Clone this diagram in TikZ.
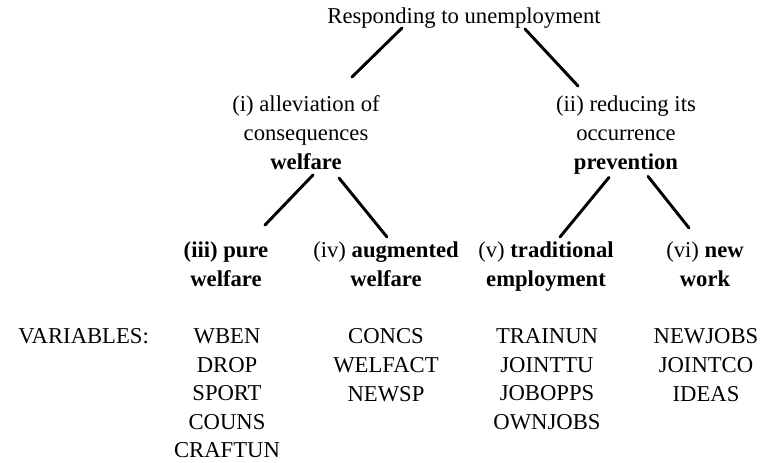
\documentclass[tikz,border=0pt]{standalone}
\usepackage{fontspec}
\setmainfont{Liberation Serif}
\usetikzlibrary{calc}

\begin{document}
\begin{tikzpicture}[
      x=0.75pt, y=-0.75pt,
      every node/.style={font=\fontsize{17}{21.6}\selectfont, inner sep=0pt},
      lab/.style={align=center, anchor=north},
      varcol/.style={align=center, anchor=north, font=\fontsize{17}{21.4}\selectfont},
      branch/.style={line width=2.2pt, line cap=round},
    ]
    \useasboundingbox (0,0) rectangle (778,463);

    % Top
    \node[anchor=base] (top) at (464,24) {Responding to unemployment};

    % Second level
    \node[lab] (alle) at (306,95.7) {(i) alleviation of\\consequences\\\textbf{welfare}};
    \node[lab] (redu) at (626,95.7) {(ii) reducing its\\occurrence\\\textbf{prevention}};

    % Third level
    \node[lab] (pure) at (226,241.7) {\textbf{(iii) pure}\\\textbf{welfare}};
    \node[lab] (augm) at (386,241.7) {(iv) \textbf{augmented}\\\textbf{welfare}};
    \node[lab] (trad) at (546,241.7) {(v) \textbf{traditional}\\\textbf{employment}};
    \node[lab] (neww) at (705,241.7) {(vi) \textbf{new}\\\textbf{work}};

    % Variables
    \node[anchor=base west] (varhead) at (18,343) {VARIABLES:};
    \node[varcol] (pvars) at (227,328.7) {WBEN\\DROP\\SPORT\\COUNS\\CRAFTUN};
    \node[varcol] (avars) at (386,328.7) {CONCS\\WELFACT\\NEWSP};
    \node[varcol] (tvars) at (547,328.7) {TRAINUN\\JOINTTU\\JOBOPPS\\OWNJOBS};
    \node[varcol] (nvars) at (706,328.7) {NEWJOBS\\JOINTCO\\IDEAS};

    % Branches
    \draw[branch] ($(top.base)+(-62,4)$) -- ($(alle.north)+(46,-18.7)$);
    \draw[branch] ($(top.base)+(61,5)$) -- ($(redu.north)+(-48,-9.7)$);
    \draw[branch] ($(alle.south)+(7,5)$) -- ($(pure.north)+(39,-16.7)$);
    \draw[branch] ($(alle.south)+(33,8)$) -- ($(augm.north)+(1,-4.7)$);
    \draw[branch] ($(redu.south)+(-17,3)$) -- ($(trad.north)+(14,-4.7)$);
    \draw[branch] ($(redu.south)+(22,2)$) -- ($(neww.north)+(-16,-13.7)$);
  \end{tikzpicture}
\end{document}
